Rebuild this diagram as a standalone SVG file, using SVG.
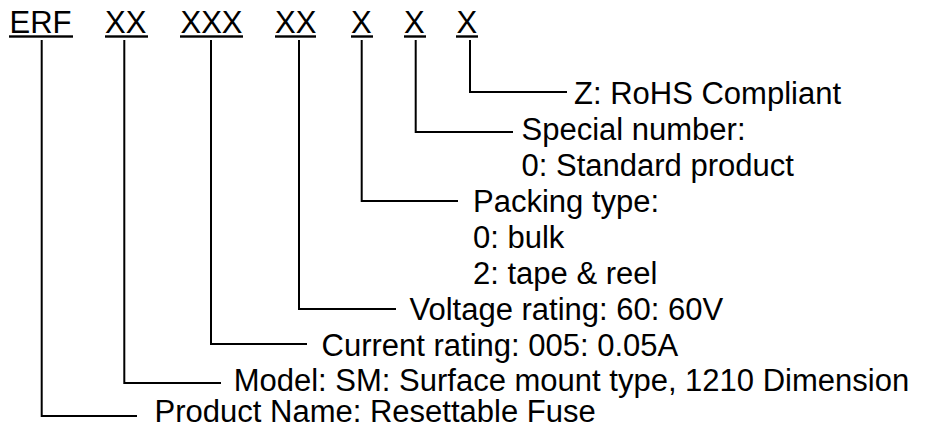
<svg xmlns="http://www.w3.org/2000/svg" width="933" height="429" viewBox="0 0 933 429">
<style>
text{font-family:"Liberation Sans",Arial,sans-serif;font-size:31px;fill:#000}
.ul{fill:#000}
.c{fill:none;stroke:#000;stroke-width:2}
</style>
<rect width="933" height="429" fill="#fff"/>
<g id="code">
<g id="seg-erf"><text x="9.5" y="33">ERF</text><rect class="ul" x="9" y="35.3" width="64" height="2.4"/></g>
<g id="seg-model"><text x="105" y="33">XX</text><rect class="ul" x="105" y="35.3" width="43" height="2.4"/></g>
<g id="seg-current"><text x="180.5" y="33">XXX</text><rect class="ul" x="180" y="35.3" width="63" height="2.4"/></g>
<g id="seg-voltage"><text x="275" y="33">XX</text><rect class="ul" x="275" y="35.3" width="41" height="2.4"/></g>
<g id="seg-packing"><text x="351" y="33">X</text><rect class="ul" x="351" y="35.3" width="22" height="2.4"/></g>
<g id="seg-special"><text x="404" y="33">X</text><rect class="ul" x="404" y="35.3" width="22" height="2.4"/></g>
<g id="seg-rohs"><text x="456.5" y="33">X</text><rect class="ul" x="456" y="35.3" width="22" height="2.4"/></g>
</g>
<g id="connectors">
<path class="c" d="M41.7,40 V416 H137"/>
<path class="c" d="M124.3,40 V383 H221"/>
<path class="c" d="M211,40 V344 H307"/>
<path class="c" d="M299,40 V309 H396"/>
<path class="c" d="M361.7,40 V201 H458"/>
<path class="c" d="M415.7,40 V132 H513"/>
<path class="c" d="M470,40 V92 H567"/>
</g>
<g id="label-rohs"><text x="574" y="104">Z: RoHS Compliant</text></g>
<g id="label-special"><text x="521.5" y="140">Special number:</text><text x="521.5" y="176">0: Standard product</text></g>
<g id="label-packing"><text x="473" y="212">Packing type:</text><text x="473" y="248">0: bulk</text><text x="473" y="284">2: tape &amp; reel</text></g>
<g id="label-voltage"><text x="409.5" y="320">Voltage rating: 60: 60V</text></g>
<g id="label-current"><text x="321.5" y="355.5">Current rating: 005: 0.05A</text></g>
<g id="label-model"><text x="233.7" y="391">Model: SM: Surface mount type, 1210 Dimension</text></g>
<g id="label-product"><text x="154.6" y="422.3">Product Name: Resettable Fuse</text></g>
</svg>
